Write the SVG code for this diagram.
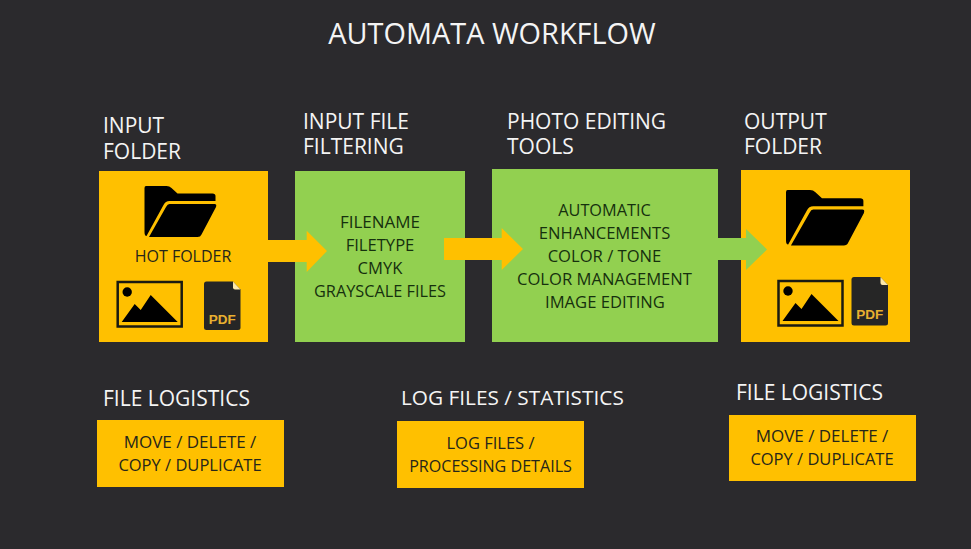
<svg xmlns="http://www.w3.org/2000/svg" width="971" height="549" viewBox="0 0 971 549">
<style>
text{font-family:"Open Sans","Noto Sans","Liberation Sans",sans-serif}
.h{font-size:21px;fill:#f4f4f4}
.y{fill:#ffc000}.g{fill:#92d050}
.b{font-size:16.500px;fill:#26261a;text-anchor:middle}
.t{font-size:16.600px;fill:#16300e;text-anchor:middle}
.pdf{font-size:13.500px;font-weight:700;fill:#e8b030;text-anchor:middle;font-family:"Liberation Sans",sans-serif}
</style>
<defs>
<g id="folder">
<path d="M1.500 0H22Q25 0 27 2L33 7.500H68Q71 7.500 71 10V15H25Q21 15 19 19L2 50Q0 50 0 46V2Q0 0 1.500 0Z" fill="#000"/>
<path d="M25 18H70Q72.500 18 71.500 21L57 48.500Q56 51 53 51H4.500L21.500 21Q23 18 25 18Z" fill="#000"/>
</g>
<g id="photo">
<rect x="1" y="1" width="64" height="44.500" fill="none" stroke="#1a1a12" stroke-width="2.500"/>
<circle cx="10.500" cy="11" r="4.700" fill="#000"/>
<path d="M5 41L18 23L24 29L34 14L61 41Z" fill="#000"/>
</g>
<g id="pdfdoc">
<path d="M2.500 0H29L36.500 8V46Q36.500 48.500 34 48.500H2.500Q0 48.500 0 46V2.500Q0 0 2.500 0Z" fill="#262626"/>
<path d="M29 0L36.500 8H31Q29 8 29 6Z" fill="#ffe9a8"/>
<text class="pdf" x="18.300" y="42">PDF</text>
</g>
</defs>
<rect width="971" height="549" fill="#2b2a2d"/>
<text x="492" y="44" text-anchor="middle" font-size="28.900" fill="#f4f4f4">AUTOMATA WORKFLOW</text>
<g id="input-folder">
<rect class="y" x="99" y="171" width="169" height="171"/>
<use href="#folder" x="144.500" y="186"/>
<text class="b" x="183" y="262" style="font-size:16px">HOT FOLDER</text>
<use href="#photo" x="116.700" y="281"/>
<use href="#pdfdoc" x="204" y="281.500"/>
<text class="h" x="103" y="133">INPUT</text>
<text class="h" x="103" y="159">FOLDER</text>
</g>
<g id="input-file-filtering">
<rect class="g" x="295" y="171" width="170" height="171"/>
<text class="h" x="303" y="128.500">INPUT FILE</text>
<text class="h" x="303" y="153.500">FILTERING</text>
</g>
<g id="photo-editing-tools">
<rect class="g" x="492" y="169" width="226" height="173"/>
<text class="h" x="507" y="128.500">PHOTO EDITING</text>
<text class="h" x="507" y="153.500">TOOLS</text>
</g>
<g id="output-folder">
<rect class="y" x="741" y="170" width="169" height="172"/>
<g transform="translate(786 190) scale(1.090)"><use href="#folder"/></g>
<use href="#photo" x="777.500" y="280"/>
<use href="#pdfdoc" x="851.500" y="277"/>
<text class="h" x="744" y="128.500">OUTPUT</text>
<text class="h" x="744" y="153.500">FOLDER</text>
</g>
<g id="connectors">
<path class="y" d="M268 240H306.700V230.700L327 251L306.700 272V262H268Z"/>
<path class="y" d="M444 238H501.700V228L523 249L501.700 270V260H444Z"/>
<path class="g" d="M718 238H746V229L767 249.500L746 270V260H718Z"/>
</g>
<g id="filter-labels">
<text class="t" x="380" y="228" style="font-size:17px">FILENAME</text>
<text class="t" x="380" y="251">FILETYPE</text>
<text class="t" x="380" y="274">CMYK</text>
<text class="t" x="380" y="297" style="font-size:16.300px">GRAYSCALE FILES</text>
</g>
<g id="editing-labels">
<text class="t" x="604.500" y="216" style="font-size:16.300px">AUTOMATIC</text>
<text class="t" x="604.500" y="239">ENHANCEMENTS</text>
<text class="t" x="604.500" y="262">COLOR / TONE</text>
<text class="t" x="604.500" y="285">COLOR MANAGEMENT</text>
<text class="t" x="605" y="308">IMAGE EDITING</text>
</g>
<g id="file-logistics-left">
<text class="h" x="103" y="405.500">FILE LOGISTICS</text>
<rect class="y" x="97" y="420" width="187" height="67"/>
<text class="b" x="190" y="448" style="font-size:17px">MOVE / DELETE /</text>
<text class="b" x="190" y="471">COPY / DUPLICATE</text>
</g>
<g id="log-files">
<text class="h" x="401" y="404.500" style="font-size:20.800px">LOG FILES / STATISTICS</text>
<rect class="y" x="397" y="421" width="187" height="67"/>
<text class="b" x="490.500" y="449">LOG FILES /</text>
<text class="b" x="490.500" y="472" style="font-size:16.100px">PROCESSING DETAILS</text>
</g>
<g id="file-logistics-right">
<text class="h" x="736" y="399.500">FILE LOGISTICS</text>
<rect class="y" x="729" y="415" width="187" height="66"/>
<text class="b" x="822" y="442" style="font-size:17px">MOVE / DELETE /</text>
<text class="b" x="822" y="465">COPY / DUPLICATE</text>
</g>
</svg>
